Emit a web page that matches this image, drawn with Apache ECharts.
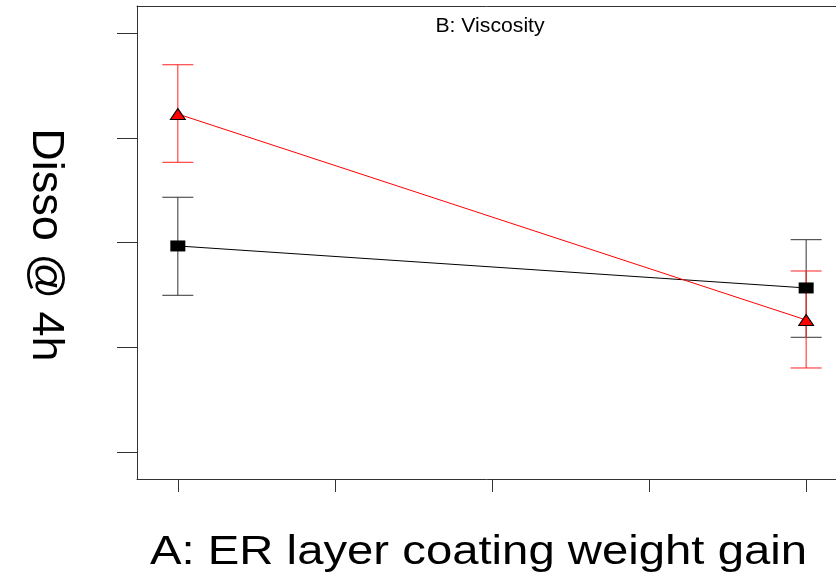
<!DOCTYPE html>
<html>
<head>
<meta charset="utf-8">
<script src="https://cdn.jsdelivr.net/npm/echarts@6/dist/echarts.min.js"></script>
<style>
html,body{margin:0;padding:0;background:#fff;}
#chart{width:836px;height:580px;}
</style>
</head>
<body>
<div id="chart"></div>
<script>
// ---- data (arbitrary response units) ----
var xLevels = [0, 4];
var xTicks = [0, 1, 2, 3, 4];
var yTicks = [0, 1, 2, 3, 4];
var blackMean = [1.967, 1.566];
var blackLow  = [1.496, 1.095];
var blackHigh = [2.432, 2.027];
var redMean   = [3.227, 1.260];
var redLow    = [2.766, 0.802];
var redHigh   = [3.697, 1.728];
var titleText = 'B: Viscosity';
var xTitle = 'A: ER layer coating weight gain';
var yTitle = 'Disso @ 4h';

var FONT = '"Liberation Sans", Arial, Helvetica, sans-serif';

function pairs(xs, ys) { return xs.map(function (x, i) { return [x, ys[i]]; }); }
function triples(xs, lo, hi) { return xs.map(function (x, i) { return [x, lo[i], hi[i]]; }); }

function errRender(color) {
  return function (params, api) {
    var x = api.value(0), lo = api.value(1), hi = api.value(2);
    var pLo = api.coord([x, lo]);
    var pHi = api.coord([x, hi]);
    var hw = 15.5;
    var st = { stroke: color, lineWidth: 1, fill: null };
    return {
      type: 'group',
      children: [
        { type: 'line', shape: { x1: pHi[0], y1: pHi[1], x2: pLo[0], y2: pLo[1] }, style: st },
        { type: 'line', shape: { x1: pHi[0] - hw, y1: pHi[1], x2: pHi[0] + hw, y2: pHi[1] }, style: st },
        { type: 'line', shape: { x1: pLo[0] - hw, y1: pLo[1], x2: pLo[0] + hw, y2: pLo[1] }, style: st }
      ]
    };
  };
}

var axisLineStyle = { color: '#333', width: 1 };
var chart = echarts.init(document.getElementById('chart'), null, { renderer: 'canvas' });
var option = {
  animation: false,
  backgroundColor: '#fff',
  grid: {
    left: 137, top: 6, right: 0, height: 473,
    show: false
  },
  xAxis: [
    {
      type: 'value', min: -0.26, max: 4.19, position: 'bottom',
      axisLine: { show: true, onZero: false, lineStyle: axisLineStyle },
      axisTick: { show: true, customValues: xTicks, length: 13, inside: false, lineStyle: axisLineStyle },
      axisLabel: { show: false },
      splitLine: { show: false }
    },
    {
      type: 'value', min: -0.26, max: 4.19, position: 'top',
      axisLine: { show: true, onZero: false, lineStyle: axisLineStyle },
      axisTick: { show: false },
      axisLabel: { show: false },
      splitLine: { show: false }
    }
  ],
  yAxis: {
    type: 'value', min: -0.258, max: 4.258,
    axisLine: { show: true, onZero: false, lineStyle: axisLineStyle },
    axisTick: { show: true, customValues: yTicks, length: 20, inside: false, lineStyle: axisLineStyle },
    axisLabel: { show: false },
    splitLine: { show: false }
  },
  graphic: [
    {
      type: 'text', x: 490, y: 26, scaleX: 1.06, z: 10,
      style: { text: titleText, x: 0, y: 0, font: '20px ' + FONT, fill: '#000', textAlign: 'center', verticalAlign: 'middle' }
    },
    {
      type: 'text', x: 150, y: 553, scaleX: 1.182, z: 10,
      style: { text: xTitle, x: 0, y: 0, font: '40px ' + FONT, fill: '#000', textAlign: 'left', verticalAlign: 'middle' }
    },
    {
      type: 'text', x: 45, y: 245, rotation: -Math.PI / 2, z: 10,
      style: { text: yTitle, x: 0, y: 0, font: '45px ' + FONT, fill: '#000', textAlign: 'center', verticalAlign: 'middle' }
    }
  ],
  series: [
    {
      type: 'custom', name: 'blackErr', z: 1,
      renderItem: errRender('#333'),
      encode: { x: 0, y: [1, 2] },
      data: triples(xLevels, blackLow, blackHigh)
    },
    {
      type: 'custom', name: 'redErr', z: 1,
      renderItem: errRender('#ff2020'),
      encode: { x: 0, y: [1, 2] },
      data: triples(xLevels, redLow, redHigh)
    },
    {
      type: 'line', name: 'black', z: 3,
      data: pairs(xLevels, blackMean),
      symbol: 'rect', symbolSize: [15, 11],
      itemStyle: { color: '#000', borderColor: '#000', borderWidth: 0 },
      lineStyle: { color: '#000', width: 1 }
    },
    {
      type: 'line', name: 'red', z: 4,
      data: pairs(xLevels, redMean),
      symbol: 'triangle', symbolSize: [15, 11],
      itemStyle: { color: '#ff0000', borderColor: '#000', borderWidth: 1 },
      lineStyle: { color: '#ff0000', width: 1 }
    }
  ]
};
chart.setOption(option);
</script>
</body>
</html>
